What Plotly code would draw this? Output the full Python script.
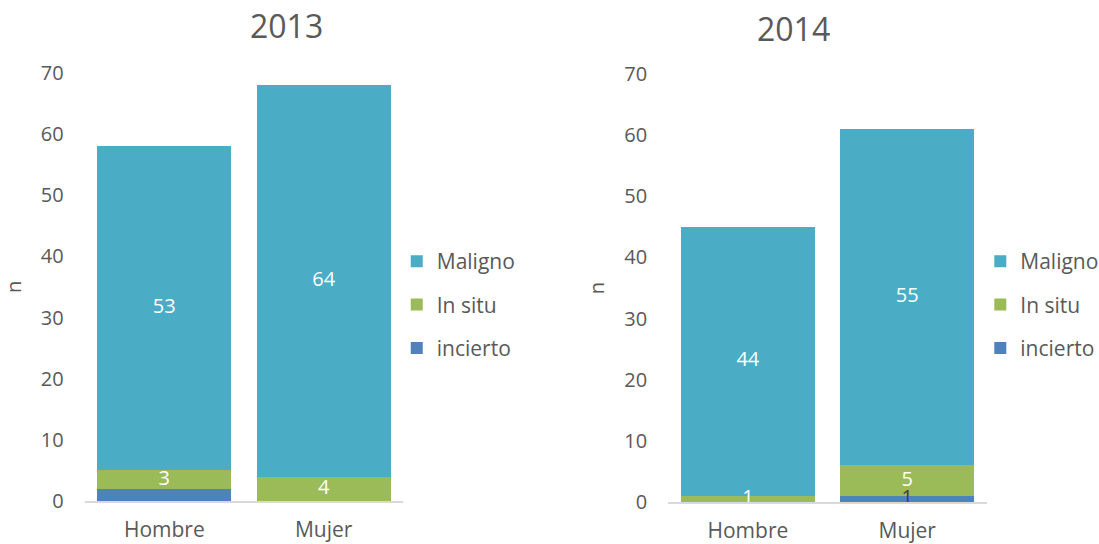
import plotly.graph_objects as go

#===========================================================================================================#

categories = ["Hombre", "Mujer"]
series = ["incierto", "In situ", "Maligno"]
colors = {"incierto": "#4F81BD", "In situ": "#9BBB59", "Maligno": "#4BACC6"}
legend_rank = {"Maligno": 1, "In situ": 2, "incierto": 3}

values_2013 = {"incierto": [2, 0], "In situ": [3, 4], "Maligno": [53, 64]}
labels_2013 = {"incierto": ["", ""], "In situ": ["3", "4"], "Maligno": ["53", "64"]}
label_colors_2013 = {"incierto": ["white", "white"], "In situ": ["white", "white"], "Maligno": ["white", "white"]}

values_2014 = {"incierto": [0, 1], "In situ": [1, 5], "Maligno": [44, 55]}
labels_2014 = {"incierto": ["", "1"], "In situ": ["1", "5"], "Maligno": ["44", "55"]}
label_colors_2014 = {"incierto": ["#404040", "#404040"], "In situ": ["white", "white"], "Maligno": ["white", "white"]}

yticks = [0, 10, 20, 30, 40, 50, 60, 70]

FONT = "Open Sans"
GREY = "#595959"

#===========================================================================================================#

fig = go.Figure()

def addYear(values, texts, textcolors, xaxis, yaxis, legend):
    for s in series:
        fig.add_trace(go.Bar(
            x=categories, y=values[s], name=s,
            marker=dict(color=colors[s], line=dict(width=0)),
            xaxis=xaxis, yaxis=yaxis, legend=legend, legendgroup=legend + s, legendrank=legend_rank[s],
        ))

    # data labels on top of every bar segment, at the middle of each stacked piece
    xs, ys, ts, cs = [], [], [], []
    base = [0] * len(categories)
    for s in series:
        for i, c in enumerate(categories):
            xs.append(c)
            ys.append(base[i] + values[s][i] / 2)
            ts.append(texts[s][i])
            cs.append(textcolors[s][i])
            base[i] += values[s][i]
    fig.add_trace(go.Scatter(
        x=xs, y=ys, text=ts, mode="text", textposition="middle center",
        textfont=dict(color=cs, size=20, family=FONT), cliponaxis=False,
        showlegend=False, hoverinfo="skip", xaxis=xaxis, yaxis=yaxis,
    ))

addYear(values_2013, labels_2013, label_colors_2013, "x", "y", "legend")
addYear(values_2014, labels_2014, label_colors_2014, "x2", "y2", "legend2")

axis_x = dict(showline=True, linecolor="#D9D9D9", linewidth=2, showgrid=False, ticks="",
              tickfont=dict(size=21, color=GREY, family=FONT), ticklabelstandoff=9)
axis_y = dict(range=[0, 70], tickvals=yticks, showgrid=False, zeroline=False, showline=False,
              tickfont=dict(size=20, color=GREY, family=FONT), ticklabelstandoff=20,
              title=dict(text="n", font=dict(size=20, color=GREY, family=FONT), standoff=14))

legend_style = dict(traceorder="grouped", tracegroupgap=13, yanchor="middle", xanchor="left",
                    font=dict(size=21, color=GREY, family=FONT), bgcolor="rgba(0,0,0,0)", itemwidth=30)

fig.update_layout(
    barmode="stack", bargap=0.16,
    width=1099, height=544,
    margin=dict(l=0, r=0, t=0, b=0, autoexpand=False),
    plot_bgcolor="white", paper_bgcolor="white",
    font=dict(family=FONT, color=GREY),
    xaxis=dict(domain=[0.077, 0.367], **axis_x),
    xaxis2=dict(domain=[0.608, 0.898], anchor="y2", **axis_x),
    yaxis=dict(domain=[0.079, 0.866], anchor="x", **axis_y),
    yaxis2=dict(domain=[0.077, 0.864], anchor="x2", **axis_y),
    legend=dict(x=0.361, y=0.44, **legend_style),
    legend2=dict(x=0.892, y=0.44, **legend_style),
    annotations=[
        dict(text="2013", x=0.2257, y=0.953, xref="paper", yref="paper", showarrow=False,
             yanchor="middle", font=dict(size=32, color=GREY, family=FONT)),
        dict(text="2014", x=0.757, y=0.948, xref="paper", yref="paper", showarrow=False,
             yanchor="middle", font=dict(size=32, color=GREY, family=FONT)),
    ],
)

fig.write_html("out.html", config={"displayModeBar": False},
               post_script="document.body.style.margin='0px';")
